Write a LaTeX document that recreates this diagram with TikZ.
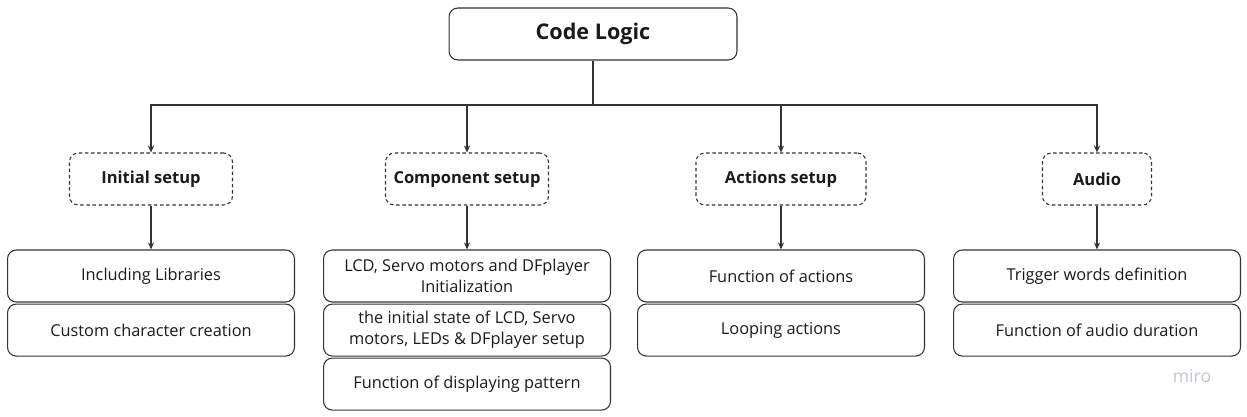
\documentclass[tikz,border=0pt]{standalone}
\usepackage{fontspec}
\setmainfont{Open Sans}
\usepackage{tikz}
\usepackage{xcolor}
\usetikzlibrary{arrows.meta, positioning}
\definecolor{linegray}{HTML}{333333}
\definecolor{textdark}{HTML}{1A1A1A}
\definecolor{mirogray}{HTML}{C4C6D0}

\begin{document}
\begin{tikzpicture}[x=0.02cm, y=-0.02cm,
  titlebox/.style={rectangle, draw=linegray, line width=0.6pt, rounded corners=5pt, minimum width=5.76cm, minimum height=1.04cm, font=\fontsize{12.3}{15}\selectfont\bfseries, text=textdark, align=center},
  headbox/.style={rectangle, draw=linegray, line width=0.6pt, dashed, dash pattern=on 2pt off 1.5pt, rounded corners=5pt, minimum height=1.04cm, font=\fontsize{9.4}{11}\selectfont\bfseries, text=textdark, align=center},
  itembox/.style={rectangle, draw=linegray, line width=0.6pt, rounded corners=5pt, minimum width=5.74cm, minimum height=1.04cm, font=\fontsize{9.3}{12}\selectfont, text=textdark, align=center},
  arrow/.style={-{Stealth[length=4pt, width=3.5pt]}, line width=0.6pt, draw=linegray}]

\useasboundingbox (0,0) rectangle (1247,416);

\node[titlebox] (logic) at (593,34) {Code Logic};
\coordinate (bus) at (593,105);

\node[headbox, minimum width=3.26cm] (init) at (151,179) {Initial setup};
\node[headbox, minimum width=3.26cm] (comp) at (467,179) {Component setup};
\node[headbox, minimum width=3.4cm] (act) at (781,179) {Actions setup};
\node[headbox, minimum width=2.18cm] (aud) at (1097,179) {Audio};
\draw[arrow] (logic.south) -- (bus) -| (init);
\draw[arrow] (bus) -| (comp);
\draw[arrow] (bus) -| (act);
\draw[arrow] (bus) -| (aud);

\node[itembox] (init1) at (151,276) {Including Libraries};
\node[itembox, below=0.02cm of init1] (init2) {Custom character creation};
\draw[arrow] (init) -- (init1);

\node[itembox] (comp1) at (467,276) {LCD, Servo motors and DFplayer\\Initialization};
\node[itembox, below=0.02cm of comp1] (comp2) {the initial state of LCD, Servo\\motors, LEDs \& DFplayer setup};
\node[itembox, below=0.02cm of comp2] (comp3) {Function of displaying pattern};
\draw[arrow] (comp) -- (comp1);

\node[itembox] (act1) at (781,276) {Function of actions};
\node[itembox, below=0.02cm of act1] (act2) {Looping actions};
\draw[arrow] (act) -- (act1);

\node[itembox] (aud1) at (1097,276) {Trigger words definition};
\node[itembox, below=0.02cm of aud1] (aud2) {Function of audio duration};
\draw[arrow] (aud) -- (aud1);

\node[font=\fontsize{10}{12}\selectfont, text=mirogray] (miro) at (1192,376) {miro};
\end{tikzpicture}
\end{document}
